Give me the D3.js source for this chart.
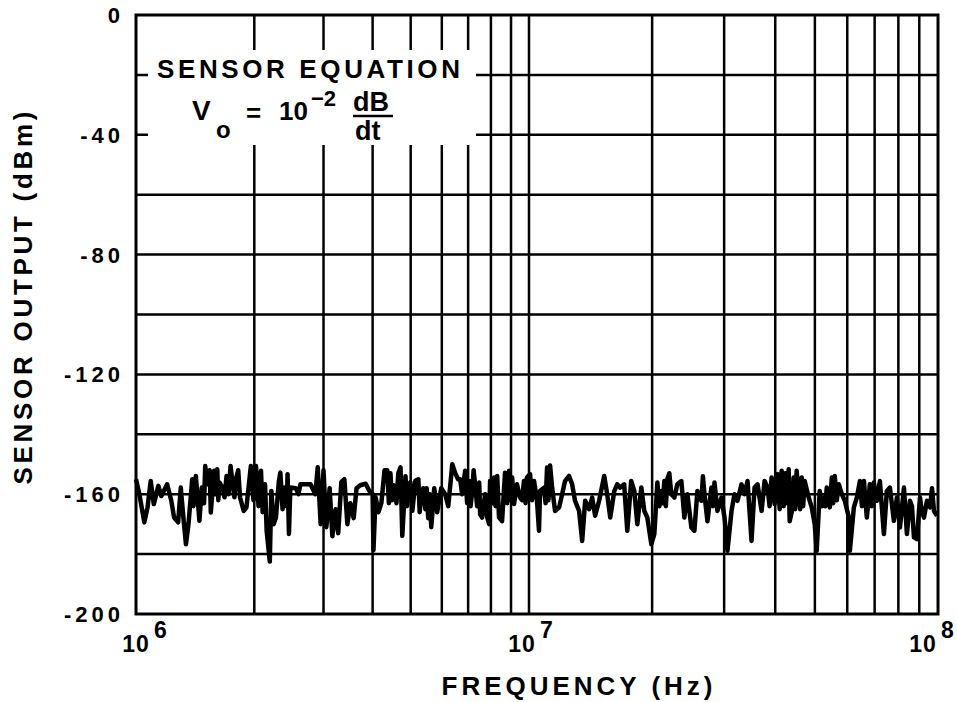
<!DOCTYPE html>
<html>
<head>
<meta charset="utf-8">
<script src="https://cdn.jsdelivr.net/npm/d3@7"></script>
<style>
  body { margin: 0; background: #fff; }
  text { font-family: "Liberation Sans", Arial, sans-serif; font-weight: bold; fill: #000; }
</style>
</head>
<body>
<svg id="chart"></svg>
<script>
// Sensor output spectrum
// frequency in MHz, output in dBm
const freqMHz = [
  1.00, 1.02, 1.05, 1.07, 1.09, 1.11, 1.14, 1.16, 1.20, 1.23, 1.25, 1.28, 1.30, 1.32, 1.34, 1.36,
  1.39, 1.42, 1.45, 1.47, 1.50, 1.52, 1.55, 1.58, 1.61, 1.63, 1.66, 1.70, 1.74, 1.76, 1.80, 1.84,
  1.88, 1.91, 1.96, 2.02, 2.08, 2.13, 2.15, 2.19, 2.21, 2.27, 2.31, 2.33, 2.39, 2.43, 2.45, 2.47,
  2.55,
  2.59, 2.62, 2.78, 2.86, 2.90, 2.95, 3.00, 3.05, 3.11, 3.16, 3.22, 3.27, 3.33, 3.39, 3.45, 3.51,
  3.58, 3.64, 3.72, 3.84, 3.93, 4.00, 4.02, 4.07, 4.14, 4.21, 4.29, 4.36, 4.44, 4.52, 4.71, 4.76,
  4.85, 4.93, 5.05, 5.14, 5.23, 5.32, 5.45, 5.54, 5.64, 5.74, 5.84, 5.98, 6.12, 6.23, 6.38, 6.49,
  6.60,
  6.68, 6.76, 6.88, 7.04, 7.17, 7.29, 7.47, 7.51, 7.60, 7.73, 7.83, 7.92, 7.96, 8.15, 8.30, 8.39,
  8.54, 8.69, 8.90, 9.06, 9.16, 9.32, 9.49, 9.71, 9.88, 10.06, 10.29, 10.46, 10.58, 10.64, 10.88,
  11.07, 11.26, 11.39, 11.58, 11.85, 12.05, 12.25, 12.53, 12.75, 12.96, 13.26, 13.49, 13.72, 14.03,
  14.27, 14.51, 14.84, 15.27, 15.53, 15.80, 16.16, 16.43, 16.71,
  17.09, 17.39, 17.78, 18.09, 18.40, 18.82, 19.14, 19.47, 19.91, 20.25, 20.60, 21.07, 21.42, 21.79,
  22.28, 22.67, 23.05, 23.58, 23.98, 24.39, 24.95, 25.37, 25.81, 26.40, 26.85, 27.31, 27.93, 28.41,
  28.89, 29.55, 30.06, 30.57, 31.27, 31.80, 32.34, 33.08, 33.65, 34.22, 35.00, 35.60, 36.21, 37.04,
  37.67, 38.31, 39.19, 39.86, 40.54, 41.47,
  42.30, 43.14, 43.38, 44.37, 45.12, 45.63, 46.42, 47.21, 48.29, 49.12, 49.95, 50.52, 51.38, 52.56,
  53.46, 54.38, 55.00, 55.93, 57.22, 58.19, 59.19, 60.54, 60.88, 62.27, 63.34, 64.43, 65.90, 66.99,
  68.13, 69.69, 70.88, 72.09, 73.74, 74.99, 76.28, 78.02, 79.35, 80.71, 82.55, 83.95, 85.39, 87.34,
  88.83, 90.35, 92.41, 93.98, 95.59, 97.77, 99.44
];

const outputDbm = [
  -155, -160, -169.4, -164.4, -155.6, -163.3, -157.2, -160.6, -156.7, -162.2, -167.8, -169.4, -157.8, -167.8, -176.7, -170,
  -155, -153.9, -168.9, -157.8, -150.6, -156.7, -166.1, -152.2, -151.7, -156.1, -157.8, -153.9, -150.6, -156.1, -154.4, -161.1,
  -165.6, -164.4, -150.6, -150.6, -152.2, -156.7, -172.2, -182.5, -158.9, -167.8, -155.6, -152.8, -157.8, -153.3, -173.3, -157.8,
  -158,
  -160, -156.7, -156.7, -160, -151, -170, -152, -171, -158, -174, -165, -173, -156, -155, -170, -163,
  -168, -158, -157, -156.5, -159, -160, -178.7, -161, -166, -163, -152, -152, -153, -157, -151, -173.9,
  -154, -157, -165.5, -155.5, -155, -160, -165, -168, -171, -158, -166, -158, -160, -164, -150, -153,
  -155,
  -155, -160, -152.2, -155.6, -158.9, -156.7, -156.1, -166.7, -167.8, -160, -167.8, -170, -155.6, -154.4, -153.9, -167.8,
  -169, -152.8, -152.2, -154.4, -163.3, -156.7, -161.1, -155.6, -154.4, -153.3, -155.6, -162.2, -172.2, -158.9, -157.8,
  -151.1, -150.4, -157.8, -165.6, -164.4, -160, -155.6, -153.9, -156.7, -162.2, -165.6, -175.6, -162.2, -165,
  -161.1, -167.2, -162.2, -153.9, -160, -167.8, -159, -156.7, -157.8,
  -156.7, -172.2, -155.6, -158.9, -170, -157.8, -165.6, -167.8, -176.7, -173.3, -156.1, -158.9, -155.6, -155,
  -160, -161.1, -156.7, -155.6, -167.8, -160, -171.1, -172.2, -158.9, -162.2, -160, -169, -157.8, -156.1,
  -165.6, -161.1, -167.8, -178.9, -165.6, -160, -162.2, -156.7, -160, -155.6, -175.6, -157.8, -156.7, -165.6,
  -155.6, -157.8, -154.4, -163.3, -153.3, -152.2,
  -153, -151.7, -169, -154.4, -152.2, -160, -154.4, -155.6, -161.1, -164.4, -170, -178.9, -158.9, -161.1,
  -157.8, -164.4, -154.4, -153.9, -156.7, -160, -162.2, -167.8, -178.9, -164.4, -161.1, -155.6, -155.6, -167.8,
  -156.7, -156.1, -162.2, -155.6, -173.3, -158.9, -157.8, -168.9, -161.1, -171.1, -157.8, -173.3, -162.2, -174.4,
  -175, -161.1, -167.8, -162.2, -164.4, -165.6, -167.2
];

// extra readings inside the solid black stretches of the trace
const fillFreqMHz = [
  1.40, 1.49, 1.54, 1.59, 1.62, 1.68, 1.72, 1.78, 1.82, 1.99, 2.05, 2.10, 2.24, 2.36, 2.42,
  4.40, 4.48, 4.60, 4.65, 4.89, 4.99, 5.27, 5.38, 5.49, 5.59,
  6.96, 7.10, 7.23, 7.38, 8.06, 8.22, 8.80, 8.98, 9.60, 9.80, 10.17, 10.98, 11.16,
  20.83, 21.25, 21.61, 22.03, 26.62, 28.17, 38.75, 41.01, 41.94, 42.77, 43.87, 44.74, 46.03, 46.81,
  51.97, 53.02, 55.46, 56.56, 65.16, 68.90, 86.36, 91.38, 96.67
];
const fillDbm = [
  -164, -163, -152, -160, -162, -161, -160, -161, -152, -162, -164, -166, -170, -165, -164,
  -163, -162, -163, -153, -164, -156, -166, -158, -158, -160,
  -163, -164, -152, -164, -163, -164, -163, -162, -162, -163, -162, -163, -162,
  -164, -163, -164, -153, -154, -164, -164, -165, -164, -163, -166, -165, -165, -164,
  -164, -164, -163, -162, -164, -164, -164, -166, -158
];

const yLabelValues = [0, -40, -80, -120, -160, -200];
const xLabelExponents = [6, 7, 8];

const width = 957;
const height = 702;
const plot = { left: 136, right: 938, top: 15, bottom: 614 };

const svg = d3.select('#chart')
  .attr('width', width)
  .attr('height', height);

// scanned axis is a bit uneven, so pin the middle decade too
const xScale = d3.scaleLog()
  .domain([1e6, 1e7, 1e8])
  .range([plot.left, 529, plot.right]);

const yScale = d3.scaleLinear()
  .domain([-200, 0])
  .range([plot.bottom, plot.top]);

// grid
const grid = svg.append('g')
  .attr('stroke', '#000')
  .attr('stroke-width', 2.5);

const xGrid = xScale.ticks().filter((d) => d > 1e6 && d < 1e8);
grid.selectAll('.v-grid')
  .data(xGrid)
  .join('line')
  .attr('class', 'v-grid')
  .attr('x1', (d) => xScale(d))
  .attr('x2', (d) => xScale(d))
  .attr('y1', plot.top)
  .attr('y2', plot.bottom);

const yGrid = d3.range(-180, 0, 20);
grid.selectAll('.h-grid')
  .data(yGrid)
  .join('line')
  .attr('class', 'h-grid')
  .attr('x1', plot.left)
  .attr('x2', plot.right)
  .attr('y1', (d) => yScale(d))
  .attr('y2', (d) => yScale(d));

// equation box covers the grid
const eq = svg.append('g');
eq.append('rect')
  .attr('x', 148)
  .attr('y', 50)
  .attr('width', 328)
  .attr('height', 95)
  .attr('fill', '#fff');

eq.append('text')
  .attr('x', 157)
  .attr('y', 78)
  .attr('font-size', 26)
  .attr('textLength', 303)
  .attr('lengthAdjust', 'spacing')
  .text('SENSOR EQUATION');

eq.append('text').attr('x', 192).attr('y', 120).attr('font-size', 28).text('V');
eq.append('text').attr('x', 216).attr('y', 138).attr('font-size', 24).text('o');
eq.append('text').attr('x', 246).attr('y', 122).attr('font-size', 26).text('=');
eq.append('text').attr('x', 279).attr('y', 120).attr('font-size', 26).text('10');
eq.append('text').attr('x', 311).attr('y', 106).attr('font-size', 22).text('\u22122');
eq.append('text').attr('x', 353).attr('y', 111).attr('font-size', 27).text('dB');
eq.append('line')
  .attr('x1', 353).attr('x2', 393)
  .attr('y1', 116).attr('y2', 116)
  .attr('stroke', '#000').attr('stroke-width', 2.5);
eq.append('text').attr('x', 355).attr('y', 140).attr('font-size', 27).text('dt');

// frame
svg.append('rect')
  .attr('x', plot.left)
  .attr('y', plot.top)
  .attr('width', plot.right - plot.left)
  .attr('height', plot.bottom - plot.top)
  .attr('fill', 'none')
  .attr('stroke', '#000')
  .attr('stroke-width', 3);

// trace
const points = d3.zip(freqMHz, outputDbm)
  .concat(d3.zip(fillFreqMHz, fillDbm))
  .sort((a, b) => a[0] - b[0]);

const line = d3.line()
  .x((d) => xScale(d[0] * 1e6))
  .y((d) => yScale(d[1]));

svg.append('path')
  .datum(points)
  .attr('d', line)
  .attr('fill', 'none')
  .attr('stroke', '#000')
  .attr('stroke-width', 4.5)
  .attr('stroke-linejoin', 'round');

// y tick labels
svg.selectAll('.y-label')
  .data(yLabelValues)
  .join('text')
  .attr('class', 'y-label')
  .attr('x', 124)
  .attr('y', (d) => yScale(d) + 8)
  .attr('text-anchor', 'end')
  .attr('font-size', 22)
  .attr('letter-spacing', 4)
  .text((d) => (d < 0 ? '-' + Math.abs(d) : d));

// x tick labels 10^n
const xOffsets = { 6: 0, 7: -7, 8: -15 };
const xLab = svg.selectAll('.x-label')
  .data(xLabelExponents)
  .join('g')
  .attr('class', 'x-label')
  .attr('transform', (d) => `translate(${xScale(10 ** d) + xOffsets[d]},0)`);

xLab.append('text')
  .attr('y', 652)
  .attr('text-anchor', 'middle')
  .attr('font-size', 23)
  .attr('letter-spacing', 1)
  .text('10');

xLab.append('text')
  .attr('x', 18)
  .attr('y', 638)
  .attr('font-size', 23)
  .text((d) => d);

// axis titles
svg.append('text')
  .attr('x', 577)
  .attr('y', 695)
  .attr('text-anchor', 'middle')
  .attr('font-size', 26)
  .attr('textLength', 271)
  .attr('lengthAdjust', 'spacing')
  .text('FREQUENCY (Hz)');

svg.append('text')
  .attr('transform', 'translate(32,298) rotate(-90)')
  .attr('text-anchor', 'middle')
  .attr('font-size', 26)
  .attr('textLength', 373)
  .attr('lengthAdjust', 'spacing')
  .text('SENSOR OUTPUT (dBm)');
</script>
</body>
</html>
